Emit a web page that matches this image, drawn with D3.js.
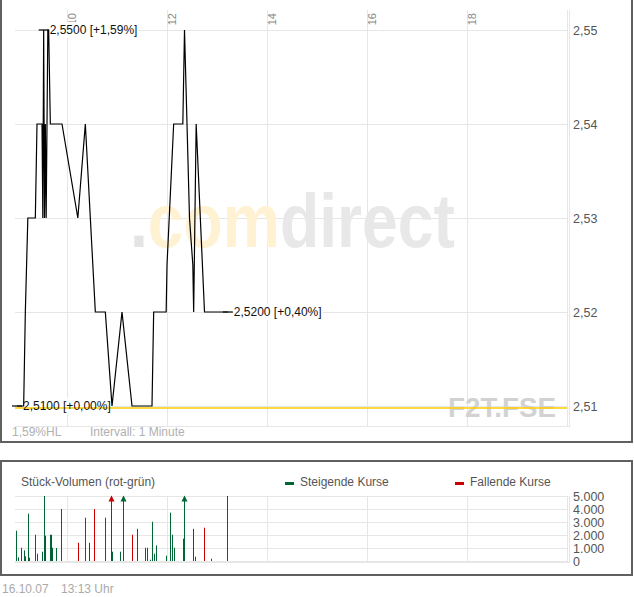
<!DOCTYPE html>
<html><head><meta charset="utf-8">
<script src="https://cdn.jsdelivr.net/npm/d3@7"></script>
<style>
body{margin:0;background:#fff;}
svg{display:block;font-family:"Liberation Sans",Arial,sans-serif;}
</style>
</head><body>
<svg id="c" width="634" height="597"></svg>
<script>
// ---------- DATA ----------
const priceTimes = ["09:00","09:08","09:10","09:13","09:22","09:24","09:30","09:31","09:32","09:33","09:34","09:35","09:37","09:38","09:40","09:54","10:13","10:22","10:34","10:46","10:54","11:06","11:18","11:42","11:44","11:59","12:00","12:08","12:19","12:21","12:24","12:27","12:31","12:32","12:35","12:40","12:45","13:13"];
const priceValues = [2.51,2.51,2.52,2.53,2.53,2.54,2.54,2.53,2.55,2.53,2.54,2.53,2.55,2.55,2.54,2.54,2.53,2.54,2.52,2.52,2.51,2.52,2.51,2.51,2.52,2.52,2.525,2.54,2.54,2.55,2.54,2.53,2.525,2.52,2.54,2.53,2.52,2.52];
const prevClose = 2.51;
const priceTicks = [2.51,2.52,2.53,2.54,2.55];
const hourTicks = ["10:00","12:00","14:00","16:00","18:00"];
const hourTickLabels = ["10","12","14","16","18"];
const xDomain = ["09:00","20:00"];
const priceDomain = [2.51,2.55];

const volTimes = ["09:00","09:02","09:06","09:10","09:11","09:14","09:16","09:23","09:25","09:31","09:34","09:35","09:41","09:42","09:43","09:48","09:54","10:14","10:23","10:28","10:34","10:47","10:54","10:55","11:05","11:08","11:19","11:25","11:35","11:37","11:41","11:43","11:46","11:48","12:00","12:05","12:07","12:10","12:20","12:22","12:32","12:35","12:46","12:54","13:13"];
const volValues = [2330,280,1020,820,360,3640,250,2020,560,715,5000,1950,2020,2020,1020,1000,4000,1400,3330,1400,4000,3330,7500,715,715,7000,2020,2480,1020,1020,100,3020,560,1200,410,3720,2020,1020,1720,6500,2480,330,2560,175,5000];
const volDirs = ["up","up","up","up","up","up","up","up","up","up","up","down","up","down","up","up","up","down","up","down","down","up","down","up","up","up","down","up","up","up","up","up","up","up","up","up","up","up","up","up","down","up","down","up","up"];
const volTicks = [0,1000,2000,3000,4000,5000];
const volDomain = [0,5000];

const maxLabel = "2,5500 [+1,59%]";
const minLabel = "2,5100 [+0,00%]";
const lastLabel = "2,5200 [+0,40%]";
const volTitle = "Stück-Volumen (rot-grün)";
const legendItems = ["Steigende Kurse","Fallende Kurse"];
const infoTexts = ["1,59%HL","Intervall: 1 Minute"];
const footerTexts = ["16.10.07","13:13 Uhr"];
const symbolText = "F2T.FSE";

// ---------- SETUP ----------
const svg = d3.select("#c");
const parse = d3.timeParse("%H:%M");
const de = d3.formatLocale({decimal:",",thousands:".",grouping:[3],currency:["","€"]});
const fmtPrice = de.format(".2f");
const fmtVol = de.format(",d");
const GREEN = "#006633", RED = "#cc0000", GRID = "#e6e6e6";

const x = d3.scaleTime().domain(xDomain.map(parse)).range([17,567]);
const y = d3.scaleLinear().domain(priceDomain).range([406,30]);
const yv = d3.scaleLinear().domain(volDomain).range([561,496]);
const pL = 15, pR = 567;

// panels
svg.append("rect").attr("x",1).attr("y",-3).attr("width",631).attr("height",445)
  .attr("fill","none").attr("stroke","#606060").attr("stroke-width",2);
svg.append("rect").attr("x",1).attr("y",461).attr("width",631).attr("height",114)
  .attr("fill","none").attr("stroke","#606060").attr("stroke-width",2);

// ---------- MAIN CHART ----------
const g = svg.append("g");
// grid horizontal
g.selectAll(".hg").data(priceTicks).join("line")
  .attr("x1",pL).attr("x2",pR).attr("y1",d=>Math.round(y(d))+0.5).attr("y2",d=>Math.round(y(d))+0.5)
  .attr("stroke",GRID);
// grid vertical
g.selectAll(".vg").data(hourTicks).join("line")
  .attr("x1",d=>Math.round(x(parse(d)))+0.5).attr("x2",d=>Math.round(x(parse(d)))+0.5)
  .attr("y1",10).attr("y2",426).attr("stroke",GRID);
// bottom / right border lines
g.append("line").attr("x1",pL).attr("x2",570).attr("y1",426.5).attr("y2",426.5).attr("stroke",GRID);
[567.5,569.5].forEach(xx=>g.append("line").attr("x1",xx).attr("x2",xx).attr("y1",10).attr("y2",427).attr("stroke",GRID));

// x tick labels (rotated)
g.selectAll(".xl").data(hourTicks).join("text")
  .attr("transform",(d)=>`translate(${Math.round(x(parse(d)))+9},13) rotate(-90)`)
  .attr("text-anchor","end").attr("font-size",11).attr("fill","#888")
  .text((d,i)=>hourTickLabels[i]);

// y tick labels
g.selectAll(".yl").data(priceTicks).join("text")
  .attr("x",573).attr("y",d=>y(d)).attr("dy","0.36em")
  .attr("font-size",12.5).attr("fill","#555").text(d=>fmtPrice(d));

// watermark
const wm = g.append("text").attr("x",0).attr("y",247).attr("font-size",76).attr("font-weight","bold");
wm.append("tspan").attr("fill","#e4e4e4").text(".");
wm.append("tspan").attr("fill","#fff2d2").text("com");
wm.append("tspan").attr("fill","#e8e8e8").text("direct");
{ const w = wm.node().getComputedTextLength(); wm.attr("transform",`translate(130,0) scale(${325/w},1)`); }

const sym = g.append("text").attr("x",0).attr("y",417).attr("font-size",28).attr("font-weight","bold")
  .attr("fill","#d2d2d2").text(symbolText);
{ const w = sym.node().getComputedTextLength(); sym.attr("transform",`translate(448,0) scale(${108/w},1)`); }

// info texts
g.append("text").attr("x",12).attr("y",436).attr("font-size",12).attr("fill","#b0b0b0").text(infoTexts[0]);
g.append("text").attr("x",90).attr("y",436).attr("font-size",12).attr("fill","#b0b0b0").text(infoTexts[1]);

// data points
const pts = priceTimes.map((t,i)=>({t:parse(t),v:priceValues[i]}));
const maxV = d3.max(priceValues), minV = d3.min(priceValues);
const maxPt = pts.find(p=>p.v===maxV), minPt = pts.find(p=>p.v===minV), lastPt = pts[pts.length-1];
const labels = [{p:maxPt,t:maxLabel},{p:minPt,t:minLabel},{p:lastPt,t:lastLabel}];

// label backgrounds
const lbg = g.append("g");
// price line
const line = d3.line().x(d=>x(d.t)).y(d=>y(d.v));
// yellow line (previous close)
const yl = g.append("line").attr("x1",pL).attr("x2",pR)
  .attr("y1",y(prevClose)+2).attr("y2",y(prevClose)+2).attr("stroke","#ffcc00").attr("stroke-width",1.5);
g.append("path").datum(pts).attr("d",line).attr("fill","none").attr("stroke","#000").attr("stroke-width",1.2);

labels.forEach(L=>{
  const px = x(L.p.t), py = y(L.p.v);
  const txt = g.append("text").attr("x",px+6).attr("y",py).attr("dy","0.36em")
    .attr("font-size",12).attr("fill","#111").text(L.t);
  const w = txt.node().getComputedTextLength();
  lbg.append("rect").attr("x",px+6).attr("y",py-8).attr("width",w+1).attr("height",16).attr("fill","#fff");
  g.append("line").attr("x1",px-5).attr("x2",px+5).attr("y1",py).attr("y2",py).attr("stroke","#000").attr("stroke-width",1.2);
});

// ---------- VOLUME CHART ----------
const gv = svg.append("g");
gv.selectAll(".vh").data(volTicks).join("line")
  .attr("x1",pL).attr("x2",pR).attr("y1",d=>Math.round(yv(d))+0.5).attr("y2",d=>Math.round(yv(d))+0.5)
  .attr("stroke",GRID);
gv.append("line").attr("x1",pL).attr("x2",570).attr("y1",562.5).attr("y2",562.5).attr("stroke",GRID);
gv.selectAll(".vv").data(hourTicks).join("line")
  .attr("x1",d=>Math.round(x(parse(d)))+0.5).attr("x2",d=>Math.round(x(parse(d)))+0.5)
  .attr("y1",496).attr("y2",562).attr("stroke",GRID);
[567.5,569.5].forEach(xx=>gv.append("line").attr("x1",xx).attr("x2",xx).attr("y1",496).attr("y2",563).attr("stroke",GRID));

gv.selectAll(".vl").data(volTicks).join("text")
  .attr("x",573).attr("y",d=>yv(d)).attr("dy","0.36em")
  .attr("font-size",12.5).attr("fill","#555").text(d=>fmtVol(d));

gv.append("text").attr("x",21).attr("y",486).attr("font-size",12).attr("fill","#555").text(volTitle);
// legend
gv.append("rect").attr("x",285).attr("y",482).attr("width",9).attr("height",3).attr("fill",GREEN);
gv.append("text").attr("x",300).attr("y",486).attr("font-size",12).attr("fill","#555").text(legendItems[0]);
gv.append("rect").attr("x",455).attr("y",482).attr("width",9).attr("height",3).attr("fill",RED);
gv.append("text").attr("x",470).attr("y",486).attr("font-size",12).attr("fill","#555").text(legendItems[1]);

const vols = volTimes.map((t,i)=>({t:parse(t),v:volValues[i],c:volDirs[i]==="up"?GREEN:RED}));
vols.forEach(d=>{
  const bx = Math.round(x(d.t))-1;
  const vv = Math.min(d.v, volDomain[1]);
  const top = yv(vv);
  gv.append("rect").attr("x",bx).attr("width",1).attr("y",top).attr("height",yv(0)-top).attr("fill",d.c);
  if (d.v > volDomain[1]) {
    gv.append("path").attr("d",`M${bx+0.5},${top-0.5} L${bx+3.5},${top+5.5} L${bx-2.5},${top+5.5} Z`).attr("fill",d.c);
  }
});

// footer
svg.append("text").attr("x",2).attr("y",593).attr("font-size",12).attr("fill","#aaa").text(footerTexts[0]);
svg.append("text").attr("x",61).attr("y",593).attr("font-size",12).attr("fill","#aaa").text(footerTexts[1]);
</script>
</body></html>
